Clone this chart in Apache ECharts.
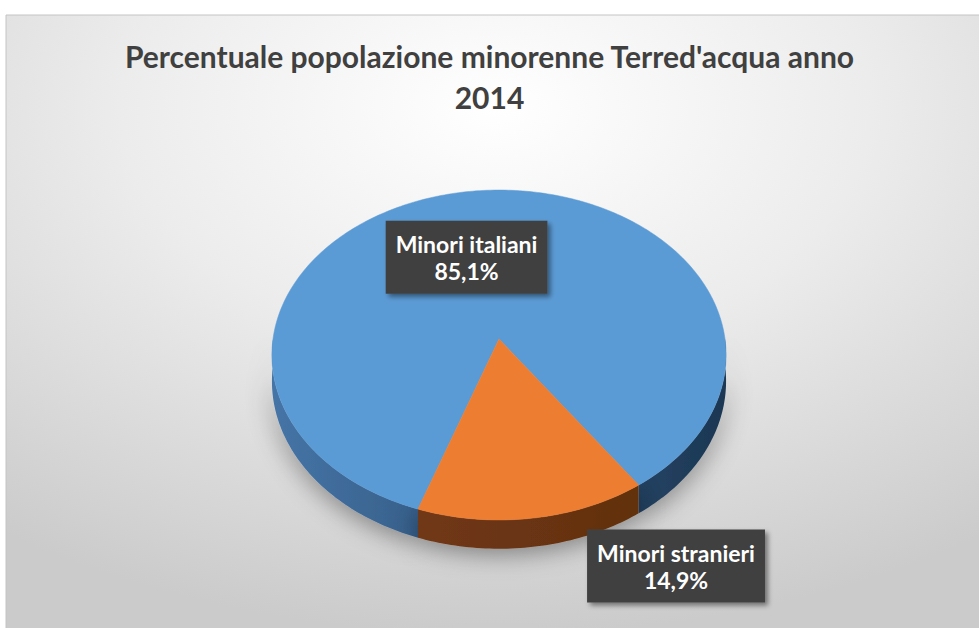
<!DOCTYPE html>
<html><head><meta charset="utf-8">
<script src="https://cdn.jsdelivr.net/npm/echarts@6/dist/echarts.min.js"></script>
<style>html,body{margin:0;padding:0;background:#fff;} #c{width:979px;height:628px;}</style>
</head><body><div id="c"></div>
<script>
const titleLines = ["Percentuale popolazione minorenne Terred'acqua anno", "2014"];
const categories = ['Minori italiani', 'Minori stranieri'];
const values = [85.1, 14.9];
const valueLabels = ['85,1%', '14,9%'];

const chart = echarts.init(document.getElementById('c'), null, {renderer: 'svg'});
// layout of the tilted (perspective) pie
const PIE = {cx: 499, cy: 339, rx: 226, ry: 163.4, persp: 0.097, depth: 26, start: 251};
const topColors = ['#5b9bd5', '#ed7d31'];
const sideColors = [['#4574a6', '#1c3753'], ['#7a3d17', '#5c2d0e']];
const labelLayout = [{r: 0.6, dx: -15, dy: 10}, {r: 1, dx: 143, dy: 48}];

const total = values.reduce((a, b) => a + b, 0);
const angles = [];
let acc = PIE.start;
values.forEach(v => { const sweep = v / total * 360; angles.push([acc, acc - sweep]); acc -= sweep; });

function pt(a, dy, f) {
  const r = a * Math.PI / 180; f = f || 1;
  const u = f * Math.cos(r), v = -f * Math.sin(r);
  const w = 1 - PIE.persp * v;
  return [PIE.cx + PIE.rx * u / w, PIE.cy + PIE.ry * v / w + (dy || 0) / w];
}
function arc(a1, a2, dy) {
  const n = Math.max(2, Math.ceil(Math.abs(a1 - a2)));
  const out = [];
  for (let i = 0; i <= n; i++) out.push(pt(a1 + (a2 - a1) * i / n, dy));
  return out;
}

function renderItem(params, api) {
  const i = params.dataIndex;
  const a1 = angles[i][0], a2 = angles[i][1];
  const children = [];
  for (let k = -2; k <= 1; k++) {
    const lo = Math.max(a2, 180 + 360 * k), hi = Math.min(a1, 360 + 360 * k);
    if (hi > lo) {
      const pts = arc(lo, hi, 0).concat(arc(hi, lo, PIE.depth));
      children.push({
        type: 'polygon', z2: 1, shape: {points: pts},
        style: {
          fill: new echarts.graphic.LinearGradient(PIE.cx - PIE.rx, 0, PIE.cx + PIE.rx, 0,
            [{offset: 0, color: sideColors[i][0]}, {offset: 1, color: sideColors[i][1]}], true),
          shadowBlur: 26, shadowColor: 'rgba(0,0,0,0.45)', shadowOffsetY: 4
        }
      });
    }
  }
  const topPts = [pt(0, 0, 0.0001)].concat(arc(a1, a2, 0));
  children.push({type: 'polygon', z2: 10, shape: {points: topPts}, style: {fill: topColors[i], stroke: topColors[i], lineWidth: 0.5}});
  const mid = (a1 + a2) / 2;
  const L = labelLayout[i];
  const p = pt(mid, 0, L.r);
  children.push({
    type: 'text', z2: 20, x: p[0] + L.dx, y: p[1] + L.dy,
    style: {
      text: categories[i] + '\n' + valueLabels[i],
      fill: '#ffffff', fontFamily: 'Lato', fontWeight: 'bold', fontSize: 23,
      align: 'center', verticalAlign: 'middle', lineHeight: 27,
      backgroundColor: '#404040', padding: [10, 10, 9, 10],
      shadowColor: 'rgba(0,0,0,0.45)', shadowBlur: 5, shadowOffsetX: 3, shadowOffsetY: 3
    }
  });
  return {type: 'group', children: children};
}

chart.setOption({
  animation: false,
  backgroundColor: '#ffffff',
  graphic: [{
    type: 'rect', z: -10, silent: true,
    shape: {x: 6, y: 15, width: 980, height: 620},
    style: {
      fill: new echarts.graphic.RadialGradient(0.5, 0.15, 0.85,
        [{offset: 0, color: '#ffffff'}, {offset: 0.45, color: '#ececec'}, {offset: 1, color: '#cbcbcb'}]),
      stroke: '#c4c4c4', lineWidth: 1
    }
  }],
  title: {
    text: titleLines.join('\n'), left: 'center', top: 30,
    textStyle: {fontFamily: 'Lato', fontWeight: 'bold', fontSize: 30, color: '#404040', lineHeight: 41}
  },
  series: [{
    type: 'custom', coordinateSystem: 'none', renderItem: renderItem,
    data: values.map((v, i) => ({name: categories[i], value: [v, i]}))
  }]
});
</script></body></html>
